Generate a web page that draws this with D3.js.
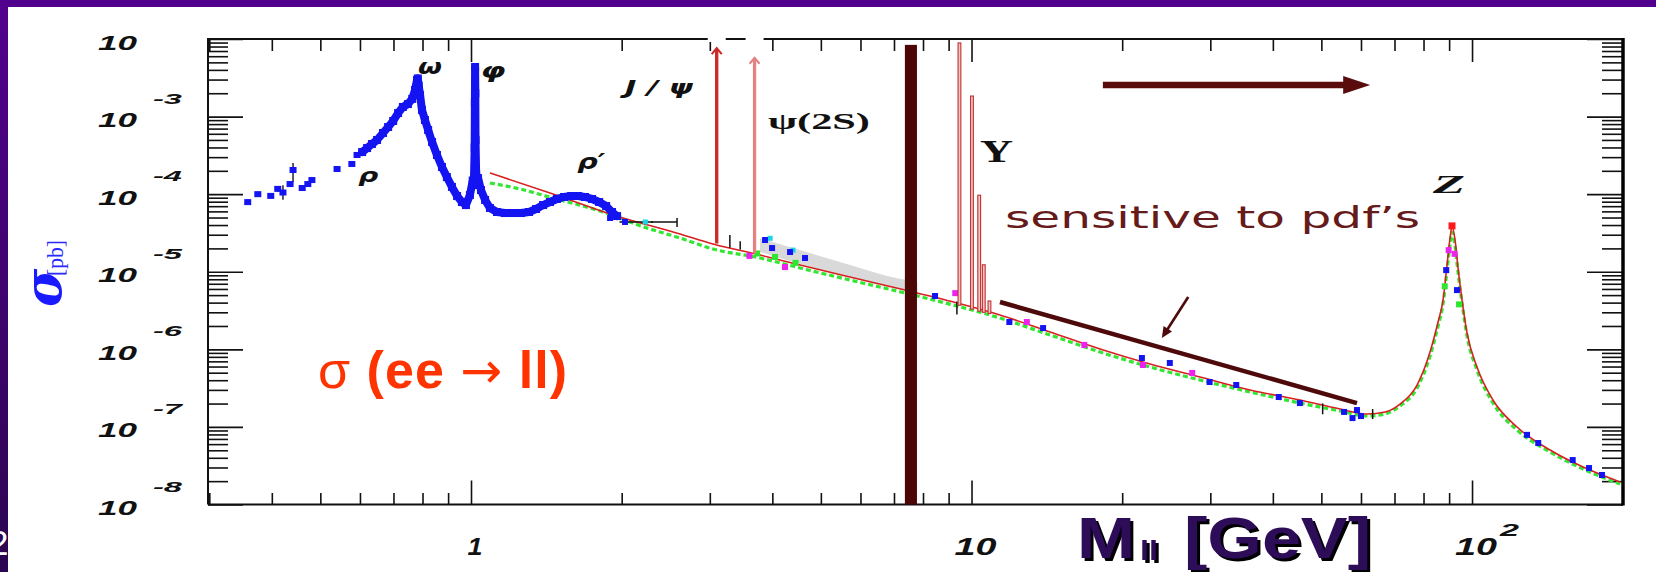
<!DOCTYPE html>
<html>
<head>
<meta charset="utf-8">
<script src="https://cdn.jsdelivr.net/npm/d3@7"></script>
<style>
  html, body { margin: 0; padding: 0; background: #fff; overflow: hidden; }
  svg { display: block; }
</style>
</head>
<body>
<svg id="chart" width="1656" height="572"></svg>
<script>
// ---------------- data: dilepton cross section vs invariant mass ----------------

// low-mass measurements below the rho/omega (isolated points with errors)
const lowSparseMass  = [0.358, 0.375, 0.398, 0.411, 0.421, 0.435, 0.441, 0.460, 0.472, 0.481, 0.540, 0.578, 0.592];
const lowSparseSigma = [7.9e-5, 1.0e-4, 9.5e-5, 1.17e-4, 1.05e-4, 1.35e-4, 2.05e-4, 1.2e-4, 1.35e-4, 1.52e-4, 2.11e-4, 2.45e-4, 3.2e-4];
const lowSparseLo    = [7.3e-5, 9.3e-5, 8.8e-5, 1.08e-4, 8.5e-5, 1.24e-4, 1.44e-4, 1.1e-4, 1.24e-4, 1.4e-4, 1.96e-4, 2.28e-4, 3.0e-4];
const lowSparseHi    = [8.6e-5, 1.08e-4, 1.02e-4, 1.27e-4, 1.3e-4, 1.47e-4, 2.52e-4, 1.31e-4, 1.47e-4, 1.65e-4, 2.27e-4, 2.63e-4, 3.4e-4];

// dense scan through rho/omega, phi and rho'
const scanMass  = [0.606, 0.620, 0.634, 0.649, 0.667, 0.683, 0.699, 0.715, 0.731, 0.748, 0.763, 0.773, 0.780, 0.783, 0.786,
                   0.791, 0.798, 0.809, 0.821, 0.836, 0.855, 0.875, 0.895, 0.916, 0.938, 0.959, 0.977, 0.995, 1.008,
                   1.013, 1.017, 1.018, 1.019, 1.020, 1.021, 1.024, 1.033, 1.047, 1.067, 1.091, 1.127, 1.169, 1.213,
                   1.259, 1.306, 1.349, 1.393, 1.438, 1.485, 1.534, 1.585, 1.636, 1.690, 1.745, 1.803, 1.862, 1.913, 1.958];
const scanSigma = [3.49e-4, 3.93e-4, 4.43e-4, 4.99e-4, 6.14e-4, 7.34e-4, 8.78e-4, 1.11e-3, 1.33e-3, 1.45e-3, 1.69e-3, 2.2e-3, 2.96e-3, 3.1e-3, 2.5e-3,
                   1.9e-3, 1.22e-3, 9.04e-4, 6.71e-4, 4.7e-4, 3.2e-4, 2.24e-4, 1.66e-4, 1.24e-4, 9.46e-5, 7.92e-5, 7.24e-5, 9.74e-5, 1.5e-4,
                   1.31e-4, 4.0e-4, 1.5e-3, 4.36e-3, 2.0e-3, 5.0e-4, 1.8e-4, 1.61e-4, 1.13e-4, 8.42e-5, 6.64e-5, 5.89e-5, 5.71e-5, 5.71e-5,
                   5.71e-5, 5.89e-5, 6.44e-5, 7.24e-5, 7.92e-5, 8.67e-5, 9.19e-5, 9.46e-5, 9.46e-5, 9.19e-5, 8.67e-5, 7.92e-5, 7.03e-5, 5.89e-5, 5.22e-5];

// Drell-Yan / Z theory curve
const theoryMass  = [1.091, 1.458, 1.922, 2.616, 3.045, 3.780, 4.544, 5.718, 7.367, 9.355, 11.40, 14.35, 18.06, 22.73, 28.61,
                     36.01, 45.33, 54.49, 61.70, 67.01, 71.80, 77.65, 82.43, 85.53, 87.52, 89.14, 90.38, 91.21, 92.48, 93.76,
                     95.50, 97.73, 102.3, 110.1, 123.0, 143.2, 166.7, 197.6];
const theorySigma = [1.874e-4, 1.005e-4, 5.386e-5, 3.065e-5, 2.278e-5, 1.643e-5, 1.221e-5, 8.55e-6, 5.815e-6, 3.955e-6, 2.769e-6, 1.672e-6, 1.009e-6, 6.466e-7, 4.396e-7,
                     2.989e-7, 2.221e-7, 1.701e-7, 1.466e-7, 1.556e-7, 1.973e-7, 3.468e-7, 9.236e-7, 2.25e-6, 4.321e-6, 1.221e-5, 2.722e-5, 3.887e-5, 2.565e-5, 1.117e-5,
                     4.321e-6, 1.623e-6, 5.916e-7, 2.221e-7, 9.97e-8, 5.04e-8, 3.04e-8, 1.949e-8];

// alternative calculation (dashed)
const altMass  = [1.091, 1.253, 1.458, 1.810, 2.247, 2.616, 3.045, 3.780, 4.544, 5.718, 7.367, 9.355, 11.40, 14.35, 18.06,
                  22.73, 28.61, 36.01, 45.33, 54.49, 61.70, 67.01, 71.80, 77.65, 82.43, 85.53, 87.52, 89.14, 90.38, 91.21,
                  92.48, 93.76, 95.50, 97.73, 102.3, 110.1, 123.0, 143.2, 166.7, 197.6];
const altSigma = [1.393e-4, 1.165e-4, 8.92e-5, 6.066e-5, 3.662e-5, 2.722e-5, 1.963e-5, 1.503e-5, 1.117e-5, 7.823e-6, 5.321e-6, 3.617e-6, 2.533e-6, 1.53e-6, 9.236e-7,
                  5.916e-7, 4.022e-7, 2.817e-7, 2.032e-7, 1.603e-7, 1.382e-7, 1.466e-7, 1.86e-7, 3.172e-7, 8.2e-7, 1.998e-6, 3.839e-6, 1.053e-5, 2.211e-5, 3.253e-5,
                  2.146e-5, 9.92e-6, 3.955e-6, 1.485e-6, 5.412e-7, 2.032e-7, 9.12e-8, 4.75e-8, 2.866e-8, 1.837e-8];

// systematic band 3.8 - 7.8 GeV
const bandMass = [3.78, 4.54, 5.72, 7.18, 7.80];
const bandLo   = [1.80e-5, 1.26e-5, 8.55e-6, 5.99e-6, 5.48e-6];
const bandHi   = [2.7e-5, 1.9e-5, 1.22e-5, 8.1e-6, 7.4e-6];

// experiments along the continuum and on the Z
const blueMass  = [1.896, 2.031, 3.868, 3.995, 4.340, 4.649, 8.455, 11.90, 13.90, 21.90, 24.90, 29.90, 33.80, 41.10, 45.30, 55.50, 57.70, 58.90, 60.0, 88.8, 93.3, 128.8, 135.6, 158.9, 171.3, 181.8];
const blueSigma = [4.93e-5, 4.38e-5, 2.565e-5, 2.02e-5, 1.796e-5, 1.503e-5, 4.87e-6, 2.25e-6, 1.88e-6, 7.73e-7, 6.67e-7, 3.79e-7, 3.47e-7, 2.43e-7, 2.03e-7, 1.56e-7, 1.3e-7, 1.65e-7, 1.38e-7, 1.05e-5, 5.8e-6, 7.9e-8, 6.2e-8, 3.74e-8, 2.95e-8, 2.4e-8];
const magentaMass  = [3.60, 4.24, 9.28, 12.9, 16.8, 22.0, 27.6, 89.8, 92.3];
const magentaSigma = [1.6e-5, 1.15e-5, 5.3e-6, 2.25e-6, 1.14e-6, 6.28e-7, 4.96e-7, 1.9e-5, 1.7e-5];
const cyanMass  = [2.23, 3.96, 4.40];
const cyanSigma = [4.38e-5, 2.7e-5, 1.9e-5];
const greenMass  = [3.73, 4.05, 4.45, 88.2, 94.2];
const greenSigma = [1.72e-5, 1.55e-5, 1.3e-5, 6.5e-6, 3.8e-6];
const blackMass  = [2.30, 3.29, 3.45, 9.35, 50.3, 63.3];
const blackSigma = [4.37e-5, 2.35e-5, 2.16e-5, 3.4e-6, 1.7e-7, 1.45e-7];
const blackLo    = [4.37e-5, 2.1e-5, 2.0e-5, 2.9e-6, 1.5e-7, 1.3e-7];
const blackHi    = [4.37e-5, 2.9e-5, 2.4e-5, 4.0e-6, 1.95e-7, 1.65e-7];
const blackXLo   = [1.98, 3.29, 3.45, 9.35, 50.3, 63.3];
const blackXHi   = [2.58, 3.29, 3.45, 9.35, 50.3, 63.3];
const zTopMass = [91.2];
const zTopSigma = [3.9e-5];

// narrow resonances
const ccbarNames = ["J/psi", "psi(2S)"];
const ccbarMass  = [3.097, 3.686];
const ccbarPeak  = [7.2e-3, 5.4e-3];
const ccbarBase  = [2.35e-5, 1.75e-5];
const bbbarMass  = [9.46, 10.02, 10.36, 10.58, 10.86];
const bbbarPeak  = [8.9e-3, 1.84e-3, 9.7e-5, 1.23e-5, 4.2e-6];
const bbbarBase  = [3.7e-6, 3.3e-6, 3.1e-6, 3.0e-6, 2.9e-6];

// axis ticks and labels
const xMajorTicks = [1, 10, 100];
const xTickText   = ["1", "10", "10"];
const xTickExp    = ["", "", "2"];
const yMajorTicks = [1e-2, 1e-3, 1e-4, 1e-5, 1e-6, 1e-7, 1e-8];
const yTickExp    = ["", "-3", "-4", "-5", "-6", "-7", "-8"];

// ---------------- drawing ----------------
const W = 1656, H = 572;
const svg = d3.select("#chart");

const x = d3.scaleLog().domain([0.3, 200]).range([209.3, 1622.7]);
const y = d3.scaleLog().domain([1e-8, 1e-2]).range([504.5, 39]);

const X0 = 208, X1 = 1623, Y0 = 39, Y1 = 504.5;

svg.append("rect").attr("width", W).attr("height", H).attr("fill", "#fff");

// slide frame
const defs = svg.append("defs");
const grad = defs.append("linearGradient").attr("id", "sideGrad")
  .attr("x1", 0).attr("y1", 0).attr("x2", 0).attr("y2", 1);
grad.append("stop").attr("offset", "0%").attr("stop-color", "#52008e");
grad.append("stop").attr("offset", "100%").attr("stop-color", "#2c0650");
const shadow = defs.append("filter").attr("id", "titleShadow")
  .attr("x", "-5%").attr("y", "-5%").attr("width", "115%").attr("height", "120%");
shadow.append("feDropShadow").attr("dx", 3).attr("dy", 3).attr("stdDeviation", 0.3)
  .attr("flood-color", "#000").attr("flood-opacity", 1);

svg.append("rect").attr("x", 0).attr("y", 0).attr("width", W).attr("height", 7).attr("fill", "#50008c");
svg.append("rect").attr("x", 0).attr("y", 0).attr("width", 8).attr("height", H).attr("fill", "url(#sideGrad)");
svg.append("text").attr("x", -11).attr("y", 555)
  .attr("font-family", "Liberation Sans, Arial, sans-serif").attr("font-size", 35)
  .attr("fill", "#fff").text("2");

const plot = svg.append("g");

// minor tick values
const xMinor = [];
[0.1, 1, 10, 100].forEach(d => { for (let k = 2; k <= 9; k++) { const v = k * d; if (v > 0.3 && v < 200) xMinor.push(v); } });
const yMinor = [];
[1e-8, 1e-7, 1e-6, 1e-5, 1e-4, 1e-3].forEach(d => { for (let k = 2; k <= 9; k++) yMinor.push(k * d); });

function tickAxis(axis, tx, ty) {
  const g = plot.append("g").attr("transform", `translate(${tx},${ty})`).call(axis);
  g.select(".domain").remove();
  g.selectAll(".tick line").attr("stroke", "#111").attr("stroke-width", 1.6);
  g.selectAll(".tick text").remove();
  return g;
}
tickAxis(d3.axisBottom(x).tickValues(xMajorTicks).tickSize(-24).tickFormat(""), 0, Y1);
tickAxis(d3.axisBottom(x).tickValues(xMinor).tickSize(-11.5).tickFormat(""), 0, Y1);
tickAxis(d3.axisTop(x).tickValues(xMajorTicks).tickSize(-23).tickFormat(""), 0, Y0);
tickAxis(d3.axisTop(x).tickValues(xMinor).tickSize(-12).tickFormat(""), 0, Y0);
tickAxis(d3.axisLeft(y).tickValues(yMajorTicks).tickSize(-35).tickFormat(""), X0, 0);
tickAxis(d3.axisLeft(y).tickValues(yMinor).tickSize(-20).tickFormat(""), X0, 0);
tickAxis(d3.axisRight(y).tickValues(yMajorTicks).tickSize(-36).tickFormat(""), X1, 0);
tickAxis(d3.axisRight(y).tickValues(yMinor).tickSize(-21).tickFormat(""), X1, 0);

// frame
plot.append("path").attr("d", `M${X0},${Y1}V${Y0}H${X1}`).attr("fill", "none").attr("stroke", "#111").attr("stroke-width", 2);
plot.append("path").attr("d", `M${X0},${Y1}H${X1}`).attr("fill", "none").attr("stroke", "#111").attr("stroke-width", 2.2);
plot.append("path").attr("d", `M${X1},${Y0 - 1}V${Y1 + 1}`).attr("fill", "none").attr("stroke", "#000").attr("stroke-width", 3.5);

// tick labels (stretched bold italic, ROOT style)
const tickFont = "Liberation Sans, Arial, sans-serif";
yMajorTicks.forEach((v, i) => {
  const ty = y(v);
  plot.append("text").attr("x", 98).attr("y", ty + 10.5)
    .attr("font-family", tickFont).attr("font-weight", "bold").attr("font-style", "italic")
    .attr("font-size", 21).attr("textLength", 39).attr("lengthAdjust", "spacingAndGlyphs")
    .attr("fill", "#111").text("10");
  if (yTickExp[i]) {
    plot.append("text").attr("x", 153).attr("y", ty - 13)
      .attr("font-family", tickFont).attr("font-weight", "bold").attr("font-style", "italic")
      .attr("font-size", 14).attr("textLength", 29).attr("lengthAdjust", "spacingAndGlyphs")
      .attr("fill", "#111").text(yTickExp[i]);
  }
});
xMajorTicks.forEach((v, i) => {
  const tx = x(v);
  const t = xTickText[i];
  const w = t.length === 1 ? 15 : 42;
  plot.append("text").attr("x", tx + 4 - w / 2).attr("y", 555)
    .attr("font-family", tickFont).attr("font-weight", "bold").attr("font-style", "italic")
    .attr("font-size", 23).attr("textLength", w).attr("lengthAdjust", "spacingAndGlyphs")
    .attr("fill", "#111").text(t);
  if (xTickExp[i]) {
    plot.append("text").attr("x", tx + 28).attr("y", 536)
      .attr("font-family", tickFont).attr("font-weight", "bold").attr("font-style", "italic")
      .attr("font-size", 16).attr("textLength", 19).attr("lengthAdjust", "spacingAndGlyphs")
      .attr("fill", "#111").text(xTickExp[i]);
  }
});

// ---- curves ----
const zip = (a, b) => a.map((v, i) => [v, b[i]]);
const line = d3.line().x(d => x(d[0])).y(d => y(d[1]));

// systematic band
const band = d3.area().x(d => x(d[0])).y0(d => y(d[1])).y1(d => y(d[2])).curve(d3.curveMonotoneX);
plot.append("path").datum(bandMass.map((m, i) => [m, bandLo[i], bandHi[i]]))
  .attr("d", band).attr("fill", "#cfcfcf").attr("opacity", 0.8);

plot.append("path").datum(zip(altMass, altSigma))
  .attr("d", line.curve(d3.curveMonotoneX)).attr("fill", "none")
  .attr("stroke", "#33e633").attr("stroke-width", 3.2).attr("stroke-dasharray", "5,3");
plot.append("path").datum(zip(theoryMass, theorySigma))
  .attr("d", line.curve(d3.curveMonotoneX)).attr("fill", "none")
  .attr("stroke", "#d82020").attr("stroke-width", 1.6);

// ---- low-mass scan ----
const BLUE = "#1414f2";
plot.append("path").datum(zip(scanMass, scanSigma))
  .attr("d", d3.line().x(d => x(d[0])).y(d => y(d[1])).curve(d3.curveLinear))
  .attr("fill", "none").attr("stroke", BLUE).attr("stroke-width", 8)
  .attr("stroke-linejoin", "round").attr("stroke-linecap", "round");
plot.append("g").selectAll("rect").data(zip(scanMass, scanSigma)).join("rect")
  .attr("x", d => x(d[0]) - 4).attr("y", d => y(d[1]) - 4).attr("width", 8).attr("height", 8).attr("fill", BLUE);

// sparse low-mass points with errors
const sparse = lowSparseMass.map((m, i) => ({ m, s: lowSparseSigma[i], lo: lowSparseLo[i], hi: lowSparseHi[i] }));
plot.append("g").selectAll("line").data(sparse).join("line")
  .attr("x1", d => x(d.m)).attr("x2", d => x(d.m)).attr("y1", d => y(d.lo)).attr("y2", d => y(d.hi))
  .attr("stroke", "#223").attr("stroke-width", 1.5);
plot.append("g").selectAll("rect").data(sparse).join("rect")
  .attr("x", d => x(d.m) - 3.5).attr("y", d => y(d.s) - 3).attr("width", 7).attr("height", 6).attr("fill", BLUE);

// ---- experiment markers ----
function markers(ms, ss, color, size) {
  plot.append("g").selectAll("rect").data(zip(ms, ss)).join("rect")
    .attr("x", d => x(d[0]) - size / 2).attr("y", d => y(d[1]) - size / 2)
    .attr("width", size).attr("height", size).attr("fill", color);
}
const blk = blackMass.map((m, i) => ({ m, s: blackSigma[i], lo: blackLo[i], hi: blackHi[i], xl: blackXLo[i], xh: blackXHi[i] }));
const gb = plot.append("g").attr("stroke", "#111").attr("stroke-width", 1.5);
blk.forEach(d => {
  gb.append("line").attr("x1", x(d.m)).attr("x2", x(d.m)).attr("y1", y(d.lo) + 1).attr("y2", y(d.hi) - 1);
  if (d.xh > d.xl) {
    gb.append("line").attr("x1", x(d.xl)).attr("x2", x(d.xh)).attr("y1", y(d.s)).attr("y2", y(d.s));
    gb.append("line").attr("x1", x(d.xh)).attr("x2", x(d.xh)).attr("y1", y(d.s) - 4).attr("y2", y(d.s) + 5);
  }
});
markers(greenMass, greenSigma, "#2ee62e", 6);
markers(cyanMass, cyanSigma, "#19d6e6", 5);
markers(magentaMass, magentaSigma, "#ee22ee", 6);
markers(blueMass, blueSigma, BLUE, 6);
markers(zTopMass, zTopSigma, "#ff1a1a", 7);

// ---- narrow resonances ----
function spike(m, top, base, stroke, fill, w) {
  const cx = x(m);
  plot.append("rect").attr("x", cx - w / 2).attr("y", y(top)).attr("width", w).attr("height", y(base) - y(top))
    .attr("fill", fill).attr("stroke", stroke).attr("stroke-width", 1.1);
}
const ccColors = ["#cc2626", "#e58080"];
ccbarMass.forEach((m, i) => {
  spike(m, ccbarPeak[i], ccbarBase[i], ccColors[i], ccColors[i], 2.2);
  const cx = x(m), ty = y(ccbarPeak[i]);
  plot.append("rect").attr("x", cx - 9).attr("y", Y0 - 3).attr("width", 18).attr("height", 6).attr("fill", "#fff");
  plot.append("path").attr("d", `M${cx - 5},${ty + 4}L${cx},${ty - 2}L${cx + 5},${ty + 4}`)
    .attr("fill", "none").attr("stroke", ccColors[i]).attr("stroke-width", 2);
});
bbbarMass.forEach((m, i) => spike(m, bbbarPeak[i], bbbarBase[i], "#c23030", "#f3c4c4", 2.8));

// ---- resonance labels (anchored in mass / cross-section units) ----
const lab = (t, m, s, size, len, family, weight, style) =>
  plot.append("text").attr("x", x(m)).attr("y", y(s))
    .attr("font-family", family).attr("font-weight", weight).attr("font-style", style)
    .attr("font-size", size).attr("textLength", len).attr("lengthAdjust", "spacingAndGlyphs")
    .attr("fill", "#111").text(t);
const sansBI = "DejaVu Sans, sans-serif";
const serif = "Liberation Serif, Times New Roman, serif";
lab("ρ", 0.595, 1.45e-4, 20, 20, sansBI, "bold", "italic");
lab("ω", 0.784, 3.5e-3, 22, 24, sansBI, "bold", "italic");
lab("φ", 1.045, 3.1e-3, 21, 25, sansBI, "bold", "italic");
lab("ρ′", 1.63, 2.1e-4, 21, 28, sansBI, "bold", "italic");
lab("J / ψ", 2.03, 1.95e-3, 20, 68, sansBI, "bold", "italic");
lab("ψ(2S)", 3.92, 7.0e-4, 24, 102, serif, "bold", "normal");
lab("Υ", 10.4, 2.6e-4, 32, 33, serif, "bold", "normal");
lab("Z", 83.6, 1.05e-4, 25, 32, serif, "bold", "italic");

// ---- annotations ----
const MAROON = "#4c0606";
// mass cut bar
plot.append("rect").attr("x", x(7.36)).attr("y", y(8.4e-3))
  .attr("width", x(7.78) - x(7.36)).attr("height", Y1 - y(8.4e-3)).attr("fill", MAROON);
// arrow to high masses
{
  const ay = y(2.55e-3), x0 = x(18.3), x1 = x(62.6);
  plot.append("line").attr("x1", x0).attr("x2", x1 - 24).attr("y1", ay).attr("y2", ay)
    .attr("stroke", "#5a0b0b").attr("stroke-width", 6.5);
  plot.append("path").attr("d", `M${x1 - 27},${ay - 9}L${x1},${ay}L${x1 - 27},${ay + 9}Z`).attr("fill", "#5a0b0b");
}
plot.append("text").attr("x", 1005).attr("y", 228)
  .attr("font-family", "DejaVu Sans, Verdana, sans-serif").attr("font-size", 30)
  .attr("textLength", 415).attr("lengthAdjust", "spacingAndGlyphs")
  .attr("fill", "#661a1a").text("sensitive to pdf’s");
// pdf-sensitive range marker
plot.append("line").attr("x1", x(11.4)).attr("y1", y(4.07e-6)).attr("x2", x(58.9)).attr("y2", y(2.03e-7))
  .attr("stroke", "#4e0a0a").attr("stroke-width", 4.5);
{
  const ax0 = x(27.1), ay0 = y(4.72e-6), ax1 = x(24.0), ay1 = y(1.4e-6);
  const ang = Math.atan2(ay1 - ay0, ax1 - ax0);
  plot.append("line").attr("x1", ax0).attr("y1", ay0).attr("x2", ax1 - 6 * Math.cos(ang)).attr("y2", ay1 - 6 * Math.sin(ang))
    .attr("stroke", "#4e0a0a").attr("stroke-width", 2.6);
  const hl = 11, hw = 5;
  const bx = ax1 - hl * Math.cos(ang), by = ay1 - hl * Math.sin(ang);
  plot.append("path").attr("d",
    `M${ax1},${ay1}L${bx + hw * Math.sin(ang)},${by - hw * Math.cos(ang)}L${bx - hw * Math.sin(ang)},${by + hw * Math.cos(ang)}Z`)
    .attr("fill", "#4e0a0a");
}

// process label
plot.append("text").attr("x", 318).attr("y", 388)
  .attr("font-family", "Liberation Sans, Arial, sans-serif").attr("font-size", 52)
  .attr("textLength", 249).attr("lengthAdjust", "spacing")
  .attr("fill", "#ff3300")
  .call(t => {
    t.append("tspan").attr("font-weight", "normal").text("σ ");
    t.append("tspan").attr("font-weight", "bold").text("(ee ");
    t.append("tspan").attr("font-weight", "normal").attr("font-family", "DejaVu Sans, sans-serif").attr("font-size", 50).text("→");
    t.append("tspan").attr("font-weight", "bold").text(" ll)");
  });

// y axis title
{
  const g = svg.append("g").attr("transform", "translate(61,307) rotate(-90)");
  g.append("text").attr("x", 0).attr("y", 0)
    .attr("font-family", "DejaVu Serif, serif").attr("font-weight", "bold").attr("font-style", "italic")
    .attr("font-size", 52).attr("fill", "#1a1aff").text("σ");
  g.append("text").attr("x", 31).attr("y", 2)
    .attr("font-family", "Liberation Serif, serif").attr("font-size", 24)
    .attr("textLength", 36).attr("lengthAdjust", "spacingAndGlyphs")
    .attr("fill", "#2a2aff").text("[pb]");
}

// x axis title with drop shadow
{
  const g = svg.append("g").attr("font-family", "Liberation Sans, Arial, sans-serif").attr("font-weight", "bold")
    .attr("fill", "#2e0a58").attr("filter", "url(#titleShadow)");
  g.append("text").attr("x", 1077).attr("y", 558).attr("font-size", 57)
    .attr("textLength", 58).attr("lengthAdjust", "spacingAndGlyphs").text("M");
  g.append("text").attr("x", 1140).attr("y", 560).attr("font-size", 28)
    .attr("textLength", 18).attr("lengthAdjust", "spacingAndGlyphs").text("ll");
  g.append("text").attr("x", 1184).attr("y", 558).attr("font-size", 57)
    .attr("textLength", 187).attr("lengthAdjust", "spacingAndGlyphs").text("[GeV]");
}
</script>
</body>
</html>
